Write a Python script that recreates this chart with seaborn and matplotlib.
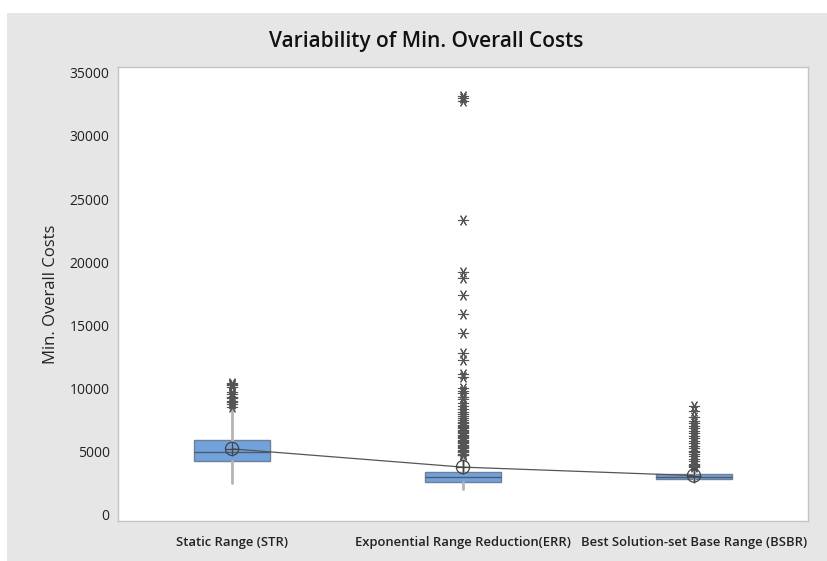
import matplotlib
matplotlib.use("Agg")
import matplotlib.pyplot as plt
from matplotlib.patches import Rectangle
import numpy as np
import pandas as pd
import seaborn as sns

# Summary statistics per method
categories = ["Static Range (STR)", "Exponential Range Reduction(ERR)",
              "Best Solution-set Base Range (BSBR)"]
q1 = [4230, 2540, 2800]
medians = [4920, 2960, 2950]
q3 = [5870, 3360, 3150]
whisker_low = [2450, 2000, 2600]
whisker_high = [8300, 4550, 3650]
means = [5170, 3720, 3050]

# Points beyond the whiskers
str_outliers = [10400, 10300, 10200, 10100, 9700, 9500, 9300, 9200, 9000,
                8900, 8700, 8500]
err_outliers = [33200, 33000, 32800, 23300, 19200, 18700, 17400, 15900, 14400,
                12800, 12200, 11100, 10900, 10000, 9800, 9600, 9300, 9100,
                8800, 8600, 8300, 8100, 7900, 7800, 7600, 7500, 7300, 7200,
                7100, 7000, 6900, 6800, 6700, 6600, 6500, 6400, 6300, 6200,
                6100, 6000, 5900, 5800, 5700, 5600, 5500, 5400, 5300, 5200,
                5100, 5000, 4900, 4800, 4700, 4650]
bsbr_outliers = [8600, 8200, 7700, 7400, 7200, 7000, 6800, 6600, 6400, 6200,
                 6000, 5800, 5600, 5400, 5200, 5000, 4900, 4800, 4600, 4400,
                 4200, 4000, 3900, 3800, 3700]

y_ticks = [0, 5000, 10000, 15000, 20000, 25000, 30000, 35000]

sns.set_theme(style="white")
plt.rcParams["font.family"] = ["Open Sans", "DejaVu Sans"]

W, H = 827, 561
fig = plt.figure(figsize=(W / 100, H / 100), dpi=100)
fig.patch.set_facecolor("white")
fig.patches.append(Rectangle((7 / W, 0), 1, (H - 13) / H, transform=fig.transFigure,
                             facecolor="#e6e6e6", edgecolor="none", zorder=-10))

ax = fig.add_axes([118 / W, (H - 521) / H, (808 - 118) / W, (521 - 67) / H])
ax.set_zorder(1)
ax.set_facecolor("white")

positions = np.arange(len(categories))
stats = [dict(label=c, q1=a, med=m, q3=b, whislo=lo, whishi=hi, fliers=[])
         for c, a, m, b, lo, hi in zip(categories, q1, medians, q3,
                                       whisker_low, whisker_high)]
ax.bxp(stats, positions=positions, widths=0.33, showfliers=False,
       patch_artist=True, showcaps=False,
       boxprops=dict(facecolor="#72a2dc", edgecolor="#6f7f96", linewidth=1.0),
       whiskerprops=dict(color="#b4b4b4", linewidth=2.0),
       medianprops=dict(color="#4d5a6e", linewidth=1.0))

# Outliers
out_df = pd.DataFrame({
    "pos": [0] * len(str_outliers) + [1] * len(err_outliers) + [2] * len(bsbr_outliers),
    "cost": str_outliers + err_outliers + bsbr_outliers,
})
sns.scatterplot(data=out_df, x="pos", y="cost", ax=ax, marker=(6, 2, 90),
                color="#555555", s=55, linewidth=0.8, zorder=4, legend=False)

# Mean connect line and mean symbols
mean_df = pd.DataFrame({"pos": positions, "mean": means})
sns.lineplot(data=mean_df, x="pos", y="mean", ax=ax, color="#555555",
             linewidth=0.9, zorder=5)
sns.scatterplot(data=mean_df, x="pos", y="mean", ax=ax, marker="o",
                facecolor="none", edgecolor="#444444", s=90, linewidth=0.9,
                zorder=6, legend=False)
sns.scatterplot(data=mean_df, x="pos", y="mean", ax=ax, marker="+",
                color="#444444", s=90, linewidth=0.9, zorder=6, legend=False)

ax.set_xlim(-0.494, 2.494)
ax.set_ylim(-555, 35476)
ax.set_xticks(positions)
ax.set_xticklabels(categories, fontsize=9.4, fontweight="semibold", color="#222222")
ax.set_yticks(y_ticks)
ax.set_yticklabels([str(v) for v in y_ticks], fontsize=10, color="#222222")
ax.tick_params(axis="both", direction="out", length=4, width=0.8,
               color="#a0a0a0", pad=2)
ax.tick_params(axis="x", pad=7)
ax.set_xlabel("")
ax.set_ylabel("Min. Overall Costs", fontsize=12, color="#222222", labelpad=8)
for sp in ax.spines.values():
    sp.set_color("#c4c4c4")
    sp.set_linewidth(1.0)

fig.text(426 / W, 1 - 41 / H, "Variability of Min. Overall Costs",
         ha="center", va="center", fontsize=15, fontweight="semibold",
         color="#111111")

fig.savefig("out.png", dpi=100)
